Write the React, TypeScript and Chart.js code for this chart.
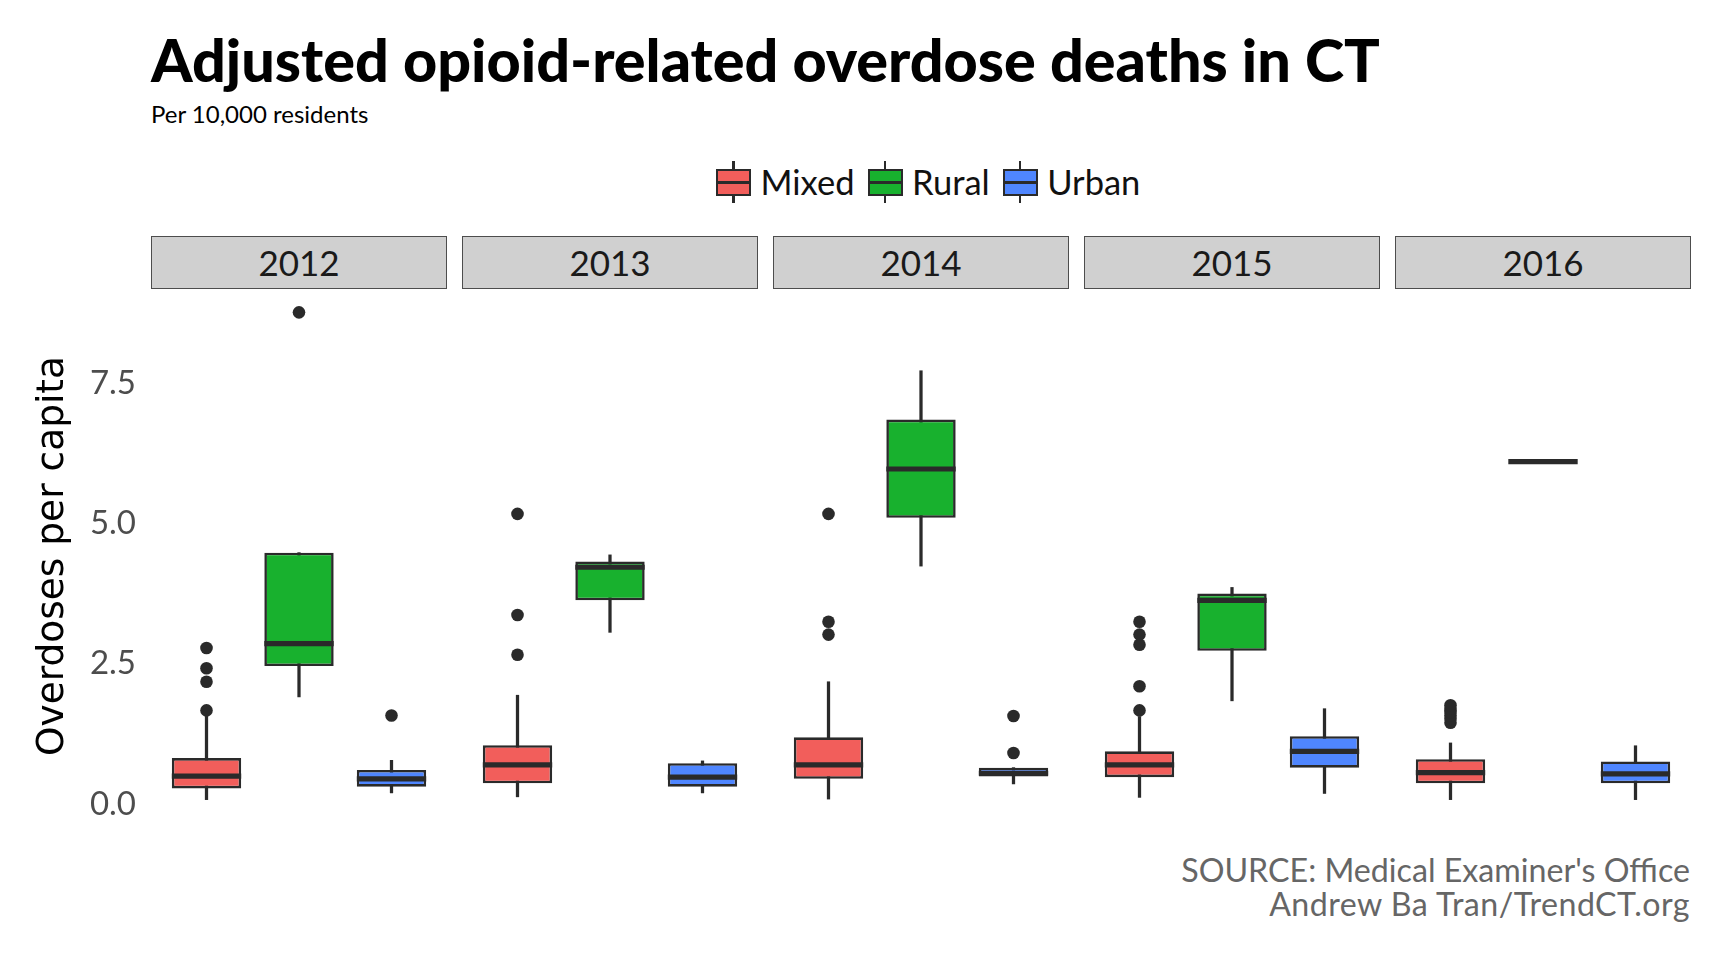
import React, { useEffect, useRef } from 'react';
import { Chart, registerables } from 'chart.js';

Chart.register(...registerables);

// ---------------- data ----------------
const years = ['2012', '2013', '2014', '2015', '2016'];
const categories = ['Mixed', 'Rural', 'Urban'];
// rows: years, columns: categories (Mixed, Rural, Urban)
const whiskerLow = [
  [0.08, 1.91, 0.2],
  [0.13, 3.06, 0.2],
  [0.09, 4.24, 0.36],
  [0.12, 1.84, 0.19],
  [0.08, 6.1, 0.08],
];
const lowerQuartile = [
  [0.28, 2.46, 0.31],
  [0.37, 3.63, 0.31],
  [0.45, 5.1, 0.49],
  [0.48, 2.73, 0.65],
  [0.37, 6.1, 0.37],
];
const medianValue = [
  [0.5, 2.86, 0.45],
  [0.7, 4.22, 0.48],
  [0.7, 5.97, 0.55],
  [0.7, 3.63, 0.94],
  [0.56, 6.1, 0.54],
];
const upperQuartile = [
  [0.82, 4.48, 0.61],
  [1.05, 4.32, 0.73],
  [1.19, 6.85, 0.65],
  [0.94, 3.75, 1.21],
  [0.8, 6.1, 0.76],
];
const whiskerHigh = [
  [1.58, 4.48, 0.78],
  [1.94, 4.44, 0.77],
  [2.18, 7.72, 0.65],
  [1.56, 3.86, 1.7],
  [1.09, 6.1, 1.04],
];
const outlierValues = [
  [[1.67, 2.18, 2.42, 2.78], [8.76], [1.58]],
  [[2.66, 3.37, 5.17], [], []],
  [[3.02, 3.25, 5.17], [], [0.91, 1.57]],
  [[1.67, 2.1, 2.84, 3.02, 3.25], [], []],
  [[1.45, 1.52, 1.58, 1.64, 1.7, 1.76], [], []],
];
const yTicks = [0, 2.5, 5, 7.5];

// ---------------- style ----------------
const FILLS = ['#f25e5b', '#18b12e', '#4f86ff'];
const LINE = '#2a2a2a';
const PANEL_W = 296;
const PANEL_STEP = 311;
const PANEL_LEFT0 = 151;
const STRIP_TOP = 236;
const PANEL_TOP = 288;
const PANEL_H = 536;
const AXIS_W = 136;
const CANVAS1_LEFT = PANEL_LEFT0 - AXIS_W;
const BOX_FRACTION = 0.75;
const X_MIN = 0.4;
const X_MAX = 3.6;
const BOX_HALF = ((PANEL_W / (X_MAX - X_MIN)) * BOX_FRACTION) / 2;
const RIGHT_EDGE = 1690;

// y range with ggplot-like 5% expansion of the data range
const allValues = [...whiskerLow.flat(), ...whiskerHigh.flat(), ...outlierValues.flat(2)];
const dataMin = Math.min(...allValues);
const dataMax = Math.max(...allValues);
const expand = (dataMax - dataMin) * 0.05;
const Y_MIN = dataMin - expand;
const Y_MAX = dataMax + expand;

function Panel({ index }: { index: number }) {
  const ref = useRef<HTMLCanvasElement>(null);
  const withAxis = index === 0;
  const left = withAxis ? CANVAS1_LEFT : PANEL_LEFT0 + index * PANEL_STEP;
  const width = withAxis ? PANEL_W + AXIS_W : PANEL_W;

  useEffect(() => {
    const pos = categories.map((_, i) => i + 1);
    const outliers: { x: number; y: number }[] = [];
    outlierValues[index].forEach((vals, ci) => vals.forEach((v) => outliers.push({ x: pos[ci], y: v })));

    const chart = new Chart(ref.current as HTMLCanvasElement, {
      type: 'bar',
      data: {
        datasets: [
          {
            type: 'bar',
            data: pos.map((x, i) => ({ x, y: [whiskerLow[index][i], whiskerHigh[index][i]] })) as any,
            backgroundColor: LINE,
            borderWidth: 0,
            barThickness: 2.6,
            grouped: false,
            order: 3,
          } as any,
          {
            type: 'bar',
            data: pos.map((x, i) => ({ x, y: [lowerQuartile[index][i], upperQuartile[index][i]] })) as any,
            backgroundColor: FILLS,
            borderColor: LINE,
            borderWidth: 2.6,
            borderSkipped: false,
            grouped: false,
            barPercentage: BOX_FRACTION,
            categoryPercentage: 1,
            order: 2,
          } as any,
          {
            type: 'scatter',
            data: pos.map((x, i) => ({ x, y: medianValue[index][i] })),
            pointStyle: 'line',
            pointRadius: BOX_HALF,
            pointBorderWidth: 5.2,
            pointBorderColor: LINE,
            order: 1,
          } as any,
          {
            type: 'scatter',
            data: outliers,
            pointRadius: 6.3,
            pointBackgroundColor: LINE,
            pointBorderWidth: 0,
            order: 0,
          } as any,
        ],
      },
      options: {
        responsive: false,
        animation: false,
        events: [],
        layout: { padding: 0, autoPadding: false },
        plugins: { legend: { display: false }, tooltip: { enabled: false } },
        scales: {
          x: {
            type: 'linear',
            min: X_MIN,
            max: X_MAX,
            display: false,
            offset: false,
            afterBuildTicks: (s: any) => {
              s.ticks = pos.map((value) => ({ value }));
            },
          },
          y: {
            type: 'linear',
            min: Y_MIN,
            max: Y_MAX,
            display: withAxis,
            grid: { display: false, drawTicks: false },
            border: { display: false },
            afterBuildTicks: (s: any) => {
              s.ticks = yTicks.map((value) => ({ value }));
            },
            afterFit: (s: any) => {
              if (withAxis) s.width = AXIS_W;
              s.paddingTop = 0;
              s.paddingBottom = 0;
            },
            ticks: {
              font: { family: 'Lato', size: 33 },
              color: '#4d4d4d',
              padding: 15,
              callback: (v: any) => Number(v).toFixed(1),
            },
            title: {
              display: true,
              text: 'Overdoses per capita',
              font: { family: 'DejaVu Sans', size: 37.5 },
              color: '#000',
              padding: { top: 15.5, bottom: 0 },
            },
          },
        },
      } as any,
    });
    return () => chart.destroy();
  }, [index]);

  return (
    <canvas
      ref={ref}
      width={width}
      height={PANEL_H}
      style={{ position: 'absolute', left, top: PANEL_TOP, width, height: PANEL_H, display: 'block' }}
    />
  );
}

export default function App() {
  const baseTop = (baseline: number, size: number) => baseline - 0.887 * size;
  return (
    <div
      style={{
        position: 'absolute',
        left: 0,
        top: 0,
        width: 1728,
        height: 960,
        overflow: 'hidden',
        background: '#fff',
        fontFamily: 'Lato, sans-serif',
      }}
    >
      <div
        style={{
          position: 'absolute',
          left: PANEL_LEFT0,
          top: baseTop(83, 59.3),
          fontSize: 59.3,
          fontWeight: 900,
          lineHeight: 1,
          whiteSpace: 'nowrap',
          color: '#000',
        }}
      >
        Adjusted opioid-related overdose deaths in CT
      </div>
      <div
        style={{
          position: 'absolute',
          left: PANEL_LEFT0,
          top: baseTop(123.5, 24),
          fontSize: 24,
          lineHeight: 1,
          whiteSpace: 'nowrap',
          color: '#000',
        }}
      >
        Per 10,000 residents
      </div>

      <div style={{ position: 'absolute', left: 716, top: 161, height: 42, display: 'flex', alignItems: 'center' }}>
        {categories.map((c, i) => (
          <React.Fragment key={c}>
            <div style={{ position: 'relative', width: 35, height: 42, marginLeft: i ? 13 : 0 }}>
              <div style={{ position: 'absolute', left: 16.4, width: 2.2, top: 0, height: 42, background: LINE }} />
              <div
                style={{
                  position: 'absolute',
                  left: 0,
                  top: 8,
                  width: 35,
                  height: 27,
                  boxSizing: 'border-box',
                  border: `2.5px solid ${LINE}`,
                  background: FILLS[i],
                }}
              >
                <div style={{ position: 'absolute', left: 0, right: 0, top: '50%', height: 3, marginTop: -1.5, background: LINE }} />
              </div>
            </div>
            <span style={{ marginLeft: 9.5, fontSize: 34.5, lineHeight: 1, color: '#111', whiteSpace: 'nowrap' }}>{c}</span>
          </React.Fragment>
        ))}
      </div>

      {years.map((y, i) => (
        <div
          key={y}
          style={{
            position: 'absolute',
            left: PANEL_LEFT0 + i * PANEL_STEP,
            top: STRIP_TOP,
            width: PANEL_W,
            height: PANEL_TOP - STRIP_TOP + 1,
            boxSizing: 'border-box',
            border: '1.5px solid #4d4d4d',
            background: '#d0d0d0',
            display: 'flex',
            alignItems: 'center',
            justifyContent: 'center',
            fontSize: 35,
            lineHeight: 1,
            color: '#1a1a1a',
          }}
        >
          {y}
        </div>
      ))}

      {years.map((y, i) => (
        <Panel key={y} index={i} />
      ))}

      <div
        style={{
          position: 'absolute',
          left: 0,
          width: RIGHT_EDGE,
          top: baseTop(882.6, 32.2),
          fontSize: 32.2,
          lineHeight: 1,
          textAlign: 'right',
          color: '#666',
          whiteSpace: 'nowrap',
        }}
      >
        SOURCE: Medical Examiner's Office
      </div>
      <div
        style={{
          position: 'absolute',
          left: 0,
          width: RIGHT_EDGE,
          top: baseTop(917, 32.2),
          fontSize: 32.2,
          lineHeight: 1,
          letterSpacing: 0.45,
          textAlign: 'right',
          color: '#666',
          whiteSpace: 'nowrap',
        }}
      >
        Andrew Ba Tran/TrendCT.org
      </div>
    </div>
  );
}
